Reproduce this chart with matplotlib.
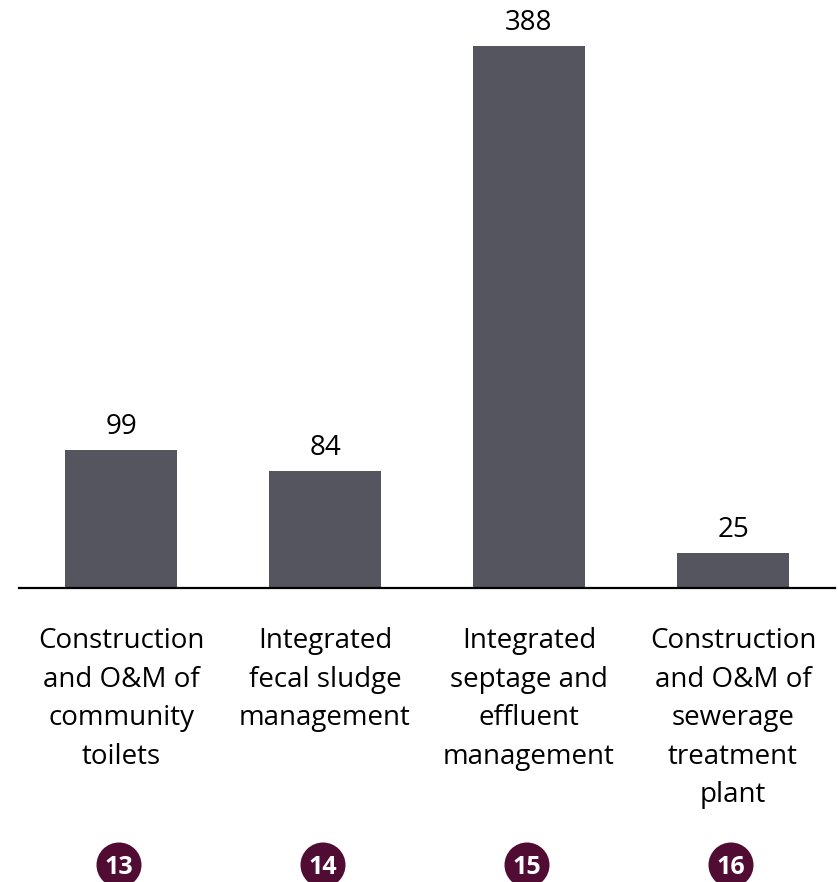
import matplotlib
matplotlib.use("Agg")
import matplotlib.pyplot as plt
from matplotlib.patches import Circle

# Data
categories = [
    "Construction\nand O&M of\ncommunity\ntoilets",
    "Integrated\nfecal sludge\nmanagement",
    "Integrated\nseptage and\neffluent\nmanagement",
    "Construction\nand O&M of\nsewerage\ntreatment\nplant",
]
values = [99, 84, 388, 25]
badges = ["13", "14", "15", "16"]

BAR_COLOR = "#55555f"
BADGE_COLOR = "#500c33"
FONT = "Open Sans"

W, H, DPI = 838, 882, 100
fig = plt.figure(figsize=(W / DPI, H / DPI), dpi=DPI)
fig.patch.set_facecolor("white")

# Axes: baseline at y=588 px from top, spanning x 19..835 px
ax_left, ax_right = 19, 835
ax_bottom = 588
ax = fig.add_axes([ax_left / W, (H - ax_bottom) / H, (ax_right - ax_left) / W, ax_bottom / H])
ax.set_xlim(-0.5, len(values) - 0.5)
ax.set_ylim(0, 421)

x = list(range(len(values)))
ax.bar(x, values, width=112 / 204, color=BAR_COLOR, zorder=2)

for s in ["top", "right", "left"]:
    ax.spines[s].set_visible(False)
ax.spines["bottom"].set_linewidth(1.6)
ax.spines["bottom"].set_color("black")
ax.set_xticks([])
ax.set_yticks([])

# Value labels above bars
for xi, v in zip(x, values):
    ax.annotate(str(v), (xi, v), xytext=(0, 11.5), textcoords="offset points",
                ha="center", va="baseline", fontsize=20, family=FONT, color="black")

fig.canvas.draw()
to_fig = fig.transFigure.inverted()

# Category labels, one line at a time, below the axis
first_baseline = 648
line_step = 38.6
for xi, label in zip(x, categories):
    xd = ax.transData.transform((xi, 0))[0]
    for k, line in enumerate(label.split("\n")):
        yd = H - (first_baseline + k * line_step)
        fx, fy = to_fig.transform((xd, yd))
        fig.text(fx, fy, line, ha="center", va="baseline", fontsize=20,
                 family=FONT, color="black")

# Numbered badges at the bottom
badge_cy = H - 865
badge_r = 22.5
for xi, b in zip(x, badges):
    xd = ax.transData.transform((xi, 0))[0] - 2
    circ = Circle((xd / DPI, badge_cy / DPI), badge_r / DPI,
                  transform=fig.dpi_scale_trans, facecolor=BADGE_COLOR,
                  edgecolor="none")
    fig.add_artist(circ)
    fx, fy = to_fig.transform((xd, badge_cy))
    fig.text(fx, fy, b, ha="center", va="center_baseline", fontsize=18,
             fontweight="bold", family=FONT, color="white")

fig.savefig("out.png", dpi=DPI)
